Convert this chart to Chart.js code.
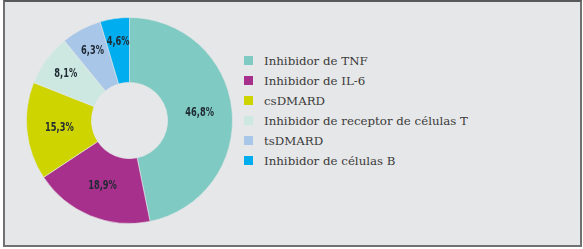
<!DOCTYPE html>
<html>
<head>
<meta charset="utf-8">
<script src="https://cdn.jsdelivr.net/npm/chart.js@4/dist/chart.umd.min.js"></script>
<style>
  html, body { margin: 0; padding: 0; background: #fff; }
  #page { position: relative; width: 583px; height: 249px; overflow: hidden; }
  #frame {
    position: absolute; left: 3px; top: 0; width: 575px; height: 243px;
    background: #e6e7e8;
    border: 2px solid #707173; border-top: 2px solid #58595b;
  }
  #pie { position: absolute; left: 26px; top: 17px; width: 207px; height: 207px; }
  #legend { position: absolute; left: 244px; top: 54px; margin: 0; padding: 0; list-style: none; }
  #legend li {
    height: 20px; line-height: 20px; white-space: nowrap;
    font: 11.8px "DejaVu Serif", serif; color: #3a3a3a;
  }
  #legend span { display: inline-block; width: 9px; height: 9px; margin-right: 11px; vertical-align: -0px; }
</style>
</head>
<body>
<div id="page">
  <div id="frame"></div>
  <div id="pie"><canvas id="chart" width="207" height="207"></canvas></div>
  <ul id="legend"></ul>
</div>
<script>
const labels = [
  "Inhibidor de TNF",
  "Inhibidor de IL-6",
  "csDMARD",
  "Inhibidor de receptor de células T",
  "tsDMARD",
  "Inhibidor de células B",
];
const values = [46.8, 18.9, 15.3, 8.1, 6.3, 4.6];
const colors = ["#7fcac3", "#a6308b", "#cdd400", "#cce8e0", "#a8c6e8", "#00adee"];

const fmt = v => v.toFixed(1).replace(".", ",") + "%";

// percent labels on each ring slice, squeezed to look condensed
const sliceLabels = {
  id: "sliceLabels",
  afterDatasetsDraw(chart) {
    const { ctx } = chart;
    const meta = chart.getDatasetMeta(0);
    ctx.save();
    ctx.font = "bold 11.5px 'DejaVu Sans Condensed', 'DejaVu Sans', sans-serif";
    ctx.fillStyle = "#1f2933";
    ctx.textAlign = "center";
    ctx.textBaseline = "middle";
    meta.data.forEach((arc, i) => {
      const p = arc.tooltipPosition();
      // small slices get pushed a bit outward, like the original
      const dx = p.x - arc.x, dy = p.y - arc.y;
      const k = values[i] < 10 ? 1.12 : 1;
      ctx.save();
      ctx.translate(arc.x + dx * k, arc.y + dy * k);
      ctx.scale(0.8, 1);
      ctx.fillText(fmt(values[i]), 0, 0);
      ctx.restore();
    });
    ctx.restore();
  },
};

new Chart(document.getElementById("chart"), {
  type: "doughnut",
  data: {
    labels,
    datasets: [{
      data: values,
      backgroundColor: colors,
      borderWidth: 1,
      borderColor: "rgba(230,231,232,0.6)",
    }],
  },
  options: {
    responsive: false,
    animation: false,
    cutout: "37%",
    layout: { padding: 0 },
    plugins: {
      legend: { display: false },
      tooltip: { enabled: false },
    },
  },
  plugins: [sliceLabels],
});

const ul = document.getElementById("legend");
labels.forEach((l, i) => {
  const li = document.createElement("li");
  const box = document.createElement("span");
  box.style.background = colors[i];
  li.appendChild(box);
  li.appendChild(document.createTextNode(l));
  ul.appendChild(li);
});
</script>
</body>
</html>
